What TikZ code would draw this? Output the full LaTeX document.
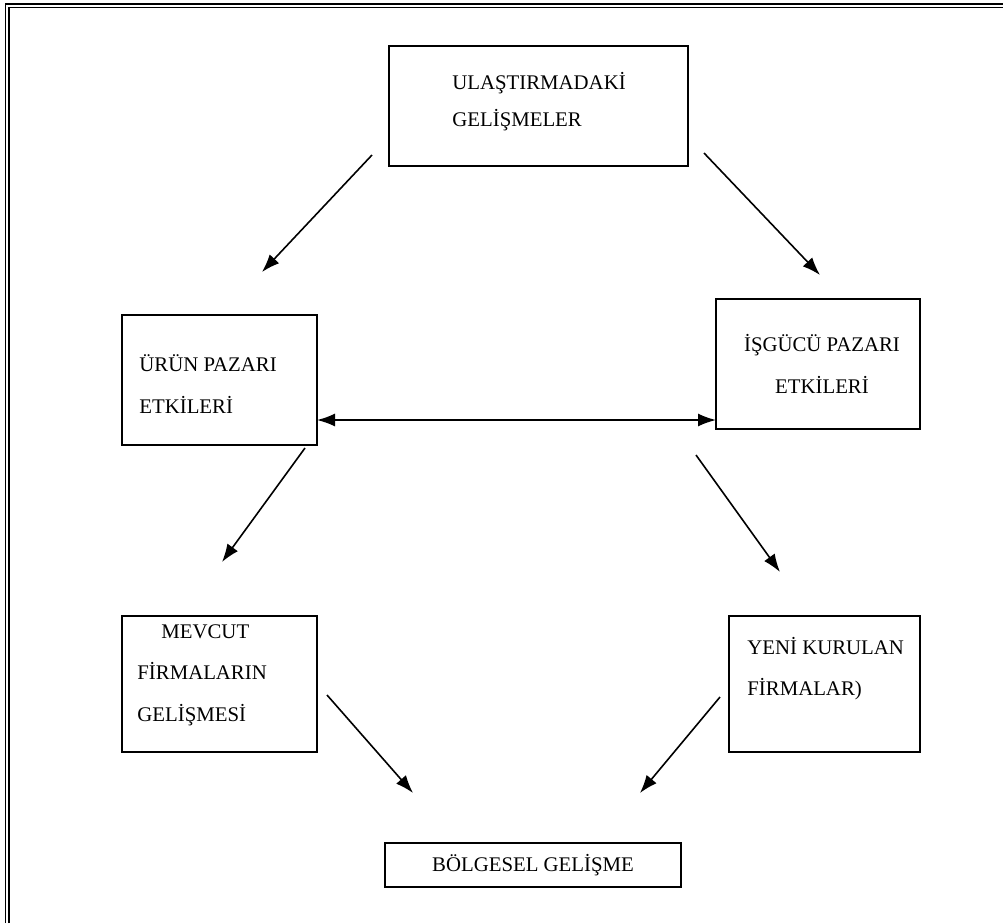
\documentclass[tikz,border=0pt]{standalone}
\usepackage{fontspec}
\setmainfont{Liberation Serif}
\usetikzlibrary{arrows.meta}
\begin{document}
\begin{tikzpicture}[x=0.5pt,y=-0.5pt,
  box/.style={draw, line width=1.1pt, inner sep=0pt},
  lbl/.style={inner sep=0pt, font=\fontsize{10.4}{20.8}\selectfont},
  conn/.style={line width=0.8pt, -{Latex[length=9pt,width=6.5pt]}},
  dconn/.style={line width=0.8pt, {Latex[length=9pt,width=6.5pt]}-{Latex[length=9pt,width=6.5pt]}},
  frameline/.style={line width=0.9pt}]
\useasboundingbox (0,0) rectangle (1003,923);
% frame
\draw[frameline] (5.5,923) -- (5.5,4) -- (1003,4);
\draw[line width=0.6pt] (9,923) -- (9,7.5) -- (1003,7.5);
% boxes
\node[box, minimum width=149.5pt, minimum height=60pt] (b1) at (538.5,106) {};
\node[box, minimum width=97.5pt, minimum height=65pt] (b2) at (219.5,380) {};
\node[box, minimum width=102pt, minimum height=65pt] (b3) at (818,364) {};
\node[box, minimum width=97.5pt, minimum height=68pt] (b4) at (219.5,684) {};
\node[box, minimum width=95.5pt, minimum height=68pt] (b5) at (824.5,684) {};
\node[box, minimum width=148pt, minimum height=22pt] (b6) at (533,865) {};
% labels
\node[lbl, align=left, anchor=west, font=\fontsize{10.4}{18.5}\selectfont] (t1) at (452,101.5) {ULAŞTIRMADAKİ\\GELİŞMELER};
\node[lbl, align=left, anchor=west] (t2) at (139,384) {ÜRÜN PAZARI\\ETKİLERİ};
\node[lbl, align=center, anchor=center] (t3) at (822,364) {İŞGÜCÜ PAZARI\\ETKİLERİ};
\node[lbl, align=left, anchor=west] (t4) at (137,675) {\hspace*{12pt}MEVCUT\\FİRMALARIN\\GELİŞMESİ};
\node[lbl, align=left, anchor=west] (t5) at (747,668.5) {YENİ KURULAN\\FİRMALAR)};
\node[lbl] (t6) at (533,865) {BÖLGESEL GELİŞME};
% connector end points
\coordinate (a1s) at (372,155); \coordinate (a1e) at (262,272);
\coordinate (a2s) at (704,153); \coordinate (a2e) at (820,275);
\coordinate (a3s) at (305,448); \coordinate (a3e) at (222,562);
\coordinate (a4s) at (696,455); \coordinate (a4e) at (780,572);
\coordinate (a5s) at (327,695); \coordinate (a5e) at (413,793);
\coordinate (a6s) at (720,697); \coordinate (a6e) at (640,793);
\coordinate (d1) at (317,420); \coordinate (d2) at (716,420);
% connectors
\draw[conn] (a1s) -- (a1e);
\draw[conn] (a2s) -- (a2e);
\draw[conn] (a3s) -- (a3e);
\draw[conn] (a4s) -- (a4e);
\draw[conn] (a5s) -- (a5e);
\draw[conn] (a6s) -- (a6e);
\draw[dconn] (d1) -- (d2);
\end{tikzpicture}
\end{document}
